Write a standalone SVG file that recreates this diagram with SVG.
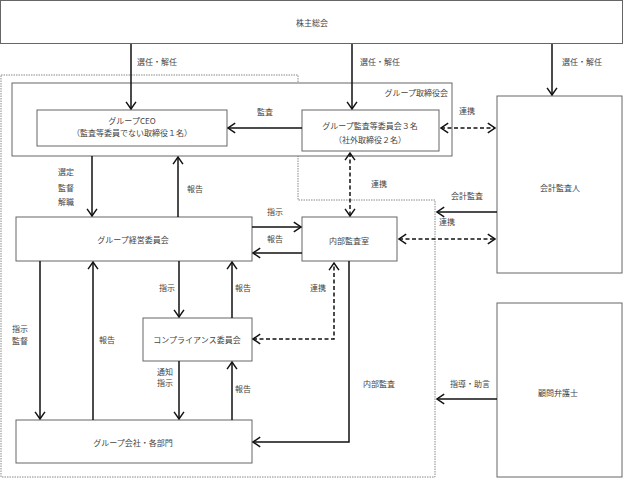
<svg xmlns="http://www.w3.org/2000/svg" width="624" height="481" viewBox="0 0 624 481">
<style>
.box{fill:#fff;stroke:#666;stroke-width:1}
.bnd{fill:none;stroke:#888;stroke-width:1;stroke-dasharray:1.5,1}
.ln{fill:none;stroke:#111;stroke-width:1.5}
.da{fill:none;stroke:#111;stroke-width:1.5;stroke-dasharray:4,2.5}
text{font-family:"Noto Sans CJK JP","Liberation Sans",sans-serif;font-size:8px;fill:#444;text-anchor:middle;dominant-baseline:central}
</style>
<defs>
<marker id="ah" viewBox="0 0 10 12" refX="9" refY="6" markerWidth="9" markerHeight="12" markerUnits="userSpaceOnUse" orient="auto-start-reverse">
<path d="M1,0.5 L9,6 L1,11.5" fill="none" stroke="#111" stroke-width="1.6"/>
</marker>
</defs>
<rect width="624" height="481" fill="#fff"/>
<path class="bnd" d="M1,75 H298 V200 H435 V477 H1 Z"/>
<g id="kabunushi"><rect class="box" x="0.5" y="0.5" width="622" height="43"/><text x="312" y="22">株主総会</text></g>
<g id="torishimariyakukai"><rect class="box" x="12" y="83" width="440" height="73"/><text x="448" y="92" style="text-anchor:end">グループ取締役会</text></g>
<g id="ceo"><rect class="box" x="37" y="110" width="190" height="36"/><text x="132" y="120">グループCEO</text><text x="132" y="132">（監査等委員でない取締役１名）</text></g>
<g id="kansatou"><rect class="box" x="302" y="110" width="137" height="41"/><text x="370" y="125">グループ監査等委員会３名</text><text x="370" y="139">（社外取締役２名）</text></g>
<g id="kaikei"><rect class="box" x="497" y="96" width="125" height="177"/><text x="560" y="187">会計監査人</text></g>
<g id="komon"><rect class="box" x="497" y="303" width="125" height="174"/><text x="558" y="392">顧問弁護士</text></g>
<g id="keiei"><rect class="box" x="16" y="217" width="236" height="44"/><text x="133" y="239">グループ経営委員会</text></g>
<g id="naibu"><rect class="box" x="302" y="217" width="95" height="44"/><text x="349" y="240">内部監査室</text></g>
<g id="compliance"><rect class="box" x="143" y="318" width="109" height="43"/><text x="197" y="339">コンプライアンス委員会</text></g>
<g id="kaisha"><rect class="box" x="16" y="420" width="236" height="43"/><text x="133" y="442">グループ会社・各部門</text></g>
<g id="connectors">
<path class="ln" d="M131,44 V109" marker-end="url(#ah)"/>
<path class="ln" d="M352,44 V109" marker-end="url(#ah)"/>
<path class="ln" d="M552,44 V95" marker-end="url(#ah)"/>
<path class="ln" d="M302,128 H228" marker-end="url(#ah)"/>
<path class="da" d="M441,128 H495" marker-start="url(#ah)" marker-end="url(#ah)"/>
<path class="da" d="M350,153 V216" marker-start="url(#ah)" marker-end="url(#ah)"/>
<path class="ln" d="M92,156 V216" marker-end="url(#ah)"/>
<path class="ln" d="M178,217 V157" marker-end="url(#ah)"/>
<path class="ln" d="M252,227 H301" marker-end="url(#ah)"/>
<path class="ln" d="M302,253 H253" marker-end="url(#ah)"/>
<path class="ln" d="M497,212 H437" marker-end="url(#ah)"/>
<path class="da" d="M399,239 H495" marker-start="url(#ah)" marker-end="url(#ah)"/>
<path class="da" d="M253,339 H334 V263" marker-start="url(#ah)" marker-end="url(#ah)"/>
<path class="ln" d="M349,261 V442 H253" marker-end="url(#ah)"/>
<path class="ln" d="M40,261 V419" marker-end="url(#ah)"/>
<path class="ln" d="M93,420 V262" marker-end="url(#ah)"/>
<path class="ln" d="M179,261 V317" marker-end="url(#ah)"/>
<path class="ln" d="M232,318 V262" marker-end="url(#ah)"/>
<path class="ln" d="M179,361 V419" marker-end="url(#ah)"/>
<path class="ln" d="M232,420 V362" marker-end="url(#ah)"/>
<path class="ln" d="M497,399 H437" marker-end="url(#ah)"/>
</g>
<g id="labels">
<text x="157" y="61">選任・解任</text>
<text x="380" y="61">選任・解任</text>
<text x="582" y="61">選任・解任</text>
<text x="265" y="111">監査</text>
<text x="467" y="110">連携</text>
<text x="66" y="171">選定</text>
<text x="66" y="187">監督</text>
<text x="66" y="201">解職</text>
<text x="195" y="188">報告</text>
<text x="379" y="183">連携</text>
<text x="467" y="195">会計監査</text>
<text x="275" y="211">指示</text>
<text x="275" y="238">報告</text>
<text x="447" y="221">連携</text>
<text x="167" y="287">指示</text>
<text x="243" y="287">報告</text>
<text x="318" y="287">連携</text>
<text x="20" y="328">指示</text>
<text x="20" y="340">監督</text>
<text x="107" y="339">報告</text>
<text x="165" y="371">通知</text>
<text x="165" y="382">指示</text>
<text x="243" y="388">報告</text>
<text x="379" y="383">内部監査</text>
<text x="470" y="383">指導・助言</text>
</g>
</svg>
